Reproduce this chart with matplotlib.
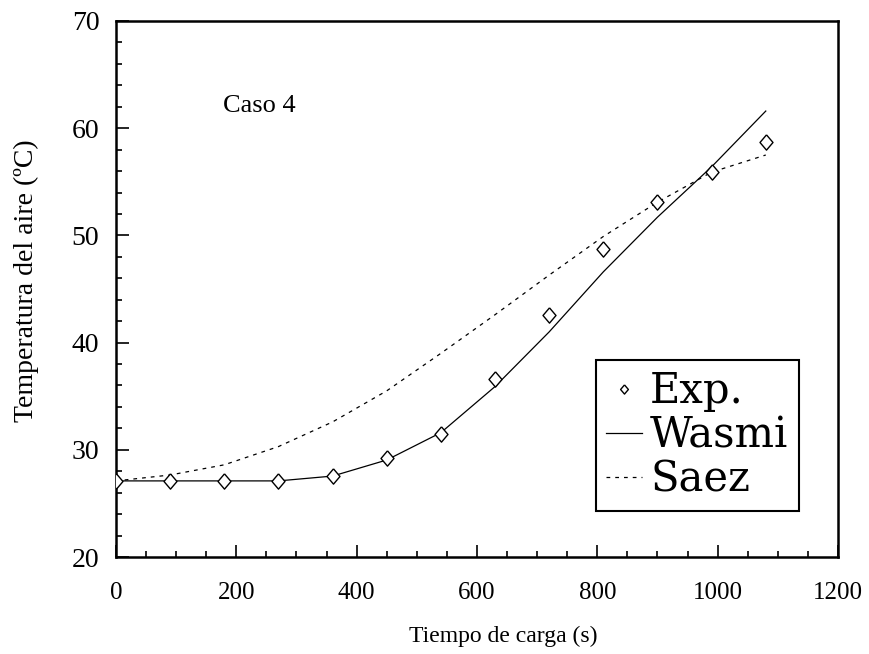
import matplotlib.pyplot as plt
from matplotlib.ticker import MultipleLocator

# tiempos de carga (s)
t_exp = [0, 90, 180, 270, 360, 450, 540, 630, 720, 810, 900, 990, 1080]
temp_exp = [27.1, 27.1, 27.1, 27.1, 27.6, 29.2, 31.5, 36.6, 42.6, 48.7, 53.1, 55.9, 58.7]

t_model = [0, 90, 180, 270, 360, 450, 540, 630, 720, 810, 900, 990, 1080]
temp_wasmi = [27.1, 27.1, 27.1, 27.1, 27.55, 29.05, 31.6, 35.9, 41.0, 46.6, 51.7, 56.4, 61.6]
temp_saez = [27.1, 27.65, 28.6, 30.3, 32.6, 35.5, 39.0, 42.6, 46.3, 49.9, 53.1, 55.9, 57.5]

plt.rcParams["font.family"] = ["Liberation Serif", "DejaVu Serif"]

fig = plt.figure(figsize=(8.7, 6.54), dpi=100)
ax = fig.add_axes([0.1333, 0.1483, 0.8299, 0.8196])

diamond = [(0, 1), (0.85, 0), (0, -1), (-0.85, 0), (0, 1)]
ax.plot(t_exp, temp_exp, linestyle="none", marker=diamond, markersize=11,
        markerfacecolor="white", markeredgecolor="black", markeredgewidth=1.0,
        label="Exp.", zorder=3)
ax.plot(t_model, temp_wasmi, color="black", linewidth=0.9, label="Wasmi")
ax.plot(t_model, temp_saez, color="black", linewidth=0.9, linestyle=(0, (3, 4)),
        label="Saez")

ax.set_xlim(0, 1200)
ax.set_ylim(20, 70)
ax.xaxis.set_major_locator(MultipleLocator(200))
ax.xaxis.set_minor_locator(MultipleLocator(50))
ax.yaxis.set_major_locator(MultipleLocator(10))
ax.yaxis.set_minor_locator(MultipleLocator(2))
ax.tick_params(which="both", direction="in", top=False, right=False, width=1.2)
ax.tick_params(which="major", length=9)
ax.tick_params(which="minor", length=4)
ax.tick_params(axis="x", which="major", labelsize=18, pad=18)
ax.tick_params(axis="y", which="major", labelsize=20, pad=12)
for spine in ax.spines.values():
    spine.set_linewidth(1.8)

ax.set_xlabel("Tiempo de carga (s)", fontsize=17)
ax.xaxis.set_label_coords(0.536, -0.128)
ax.set_ylabel("Temperatura del aire (ºC)", fontsize=20)
ax.yaxis.set_label_coords(-0.106, 0.515)

ax.text(0.148, 0.841, "Caso 4", transform=ax.transAxes, fontsize=19,
        ha="left", va="center")

leg = ax.legend(loc="upper right", bbox_to_anchor=(0.946, 0.3675),
                prop={"family": "DejaVu Serif", "size": 30},
                frameon=True, fancybox=False, framealpha=1,
                edgecolor="black", handlelength=0.85, handletextpad=0.2,
                borderpad=0.25, labelspacing=0.05, borderaxespad=0,
                markerscale=0.6)
leg.get_frame().set_linewidth(1.5)

fig.savefig("out.png", dpi=100)
